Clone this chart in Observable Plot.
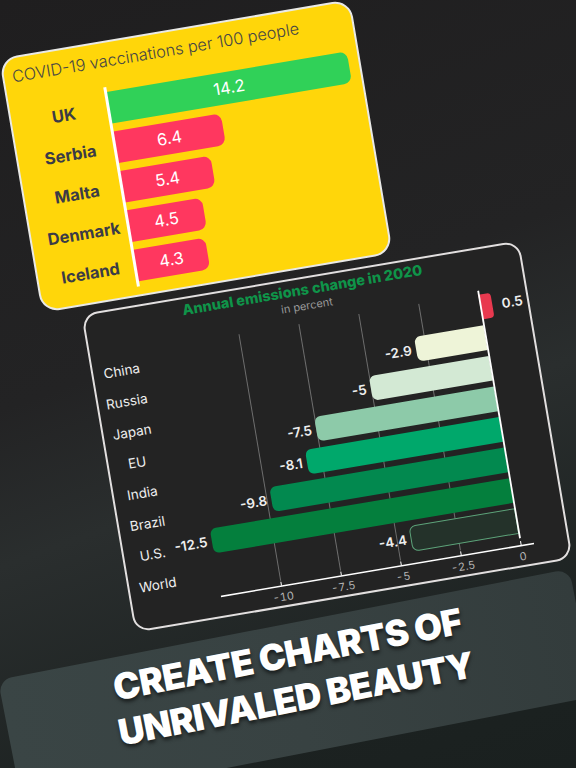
<!DOCTYPE html>
<html>
<head>
<meta charset="utf-8">
<script src="https://cdn.jsdelivr.net/npm/d3@7"></script>
<script src="https://cdn.jsdelivr.net/npm/@observablehq/plot@0.6"></script>
<style>
  html, body { margin: 0; padding: 0; }
  body {
    width: 576px; height: 768px; overflow: hidden; position: relative;
    background: linear-gradient(160deg, #1f1e1f 0%, #232324 42%, #2a2e2e 58%, #1c2221 85%, #1a201f 100%);
    font-family: Inter, "Noto Sans", sans-serif;
  }
  .card { position: absolute; border-radius: 16px; transform-origin: 50% 50%; }
  .card svg { position: absolute; left: 0; top: 0; }
  #c1 { left: 20.25px; top: 28.75px; width: 352px; height: 254px; background: #ffd60a;
        box-shadow: 0 0 0 2px #e9e9e6; transform: rotate(-9.6deg); }
  #c1 .t { position: absolute; left: 8px; top: 8px; font-size: 16.3px; font-weight: 300; color: #454545; white-space: nowrap; }
  #c2 { left: 106.75px; top: 277.25px; width: 440px; height: 319px; background: #232323;
        box-shadow: 0 0 0 2px #e2dfdf; border-radius: 14px; transform: rotate(-9.6deg); }
  #c2 .t { position: absolute; left: 0; width: 440px; text-align: center; top: 2px; font-size: 14.5px; font-weight: 800; color: #0f9449; }
  #c2 .s { position: absolute; left: 0; width: 444px; text-align: center; top: 20px; font-size: 11px; color: #9a9a9a; }
  #banner { position: absolute; left: -2px; top: 680px; width: 582px; height: 130px; border-radius: 14px;
        background: linear-gradient(90deg, #3a4545 0%, #384242 50%, #333c3c 100%);
        transform-origin: 0 0; transform: rotate(-11deg); }
  #banner .l { position: absolute; left: 0; width: 578px; text-align: center; color: #fff; font-weight: 900;
        font-size: 36px; letter-spacing: -0.6px; text-shadow: 0 3px 4px rgba(0,0,0,0.55); white-space: nowrap; }
</style>
</head>
<body>
<div id="c1" class="card"><div class="t">COVID-19 vaccinations per 100 people</div></div>
<div id="c2" class="card"><div class="t">Annual emissions change in 2020</div><div class="s">in percent</div></div>
<div id="banner">
  <div class="l" style="top:8px">CREATE CHARTS OF</div>
  <div class="l" style="top:53px">UNRIVALED BEAUTY</div>
</div>
<script>
// ---- Chart 1: COVID-19 vaccinations per 100 people
const vaxCountries = ["UK", "Serbia", "Malta", "Denmark", "Iceland"];
const vaxValues = [14.2, 6.4, 5.4, 4.5, 4.3];
const vaxColors = ["#30d158", "#ff375f", "#ff375f", "#ff375f", "#ff375f"];

// ---- Chart 2: Annual emissions change in 2020
const emCountries = ["China", "Russia", "Japan", "EU", "India", "Brazil", "U.S.", "World"];
const emValues = [0.5, -2.9, -5, -7.5, -8.1, -9.8, -12.5, -4.4];
const emColors = ["#e8394f", "#eef4d8", "#d3e9d4", "#8dcaa9", "#00a86b", "#02894f", "#047f3d", "#24322a"];
const emStrokes = ["none", "none", "none", "none", "none", "none", "none", "#5da47a"];
const emTicks = [-10, -7.5, -5, -2.5, 0];
const emGrid = [-10, -7.5, -5, -2.5];

const vax = vaxCountries.map((c, i) => ({country: c, value: vaxValues[i], color: vaxColors[i]}));
const em = emCountries.map((c, i) => ({country: c, value: emValues[i], color: emColors[i], stroke: emStrokes[i]}));

const p1 = Plot.plot({
  width: 352, height: 254,
  marginLeft: 97, marginRight: 10, marginTop: 40, marginBottom: 5,
  style: {background: "transparent", fontFamily: "Inter, 'Noto Sans', sans-serif"},
  x: {domain: [0, 14.2], axis: null},
  y: {domain: vaxCountries, padding: 0.2, axis: null},
  marks: [
    Plot.barX(vax, {x1: 0, x2: "value", y: "country", fill: "color", rx2: 8}),
    Plot.text(vax, {x: d => d.value / 2, y: "country", text: d => d.value.toFixed(1), fill: "white", fontSize: 16.5}),
    Plot.ruleX([0], {stroke: "white", strokeWidth: 3, insetTop: 4, insetBottom: 3}),
    Plot.text(vax, {y: "country", text: "country", frameAnchor: "left", dx: -45, textAnchor: "middle", fontSize: 16.5, fontWeight: 700, fill: "#3b3b46"})
  ]
});
document.getElementById("c1").appendChild(p1);

const p2 = Plot.plot({
  width: 440, height: 319,
  marginLeft: 89, marginRight: 35, marginTop: 38, marginBottom: 25,
  style: {background: "transparent", fontFamily: "Inter, 'Noto Sans', sans-serif"},
  x: {domain: [-12.5, 0.5], label: null},
  y: {domain: emCountries, padding: 0.2, axis: null},
  marks: [
    Plot.ruleX(emGrid, {stroke: "#6e6e6e", strokeWidth: 1, insetTop: 6, insetBottom: 0}),
    Plot.barX(em.filter(d => d.value < 0), {x1: "value", x2: 0, y: "country", fill: "color", stroke: "stroke", strokeWidth: 1, rx1: 6}),
    Plot.barX(em.filter(d => d.value > 0), {x1: 0, x2: "value", y: "country", fill: "color", rx2: 4}),
    Plot.ruleX([0], {stroke: "white", strokeWidth: 1.8, insetTop: 3, insetBottom: 2}),
    Plot.text(em.filter(d => d.value < 0), {x: "value", y: "country", text: d => String(d.value), textAnchor: "end", dx: -5, fill: "#eeeeee", fontSize: 13.5, fontWeight: 600}),
    Plot.text(em.filter(d => d.value > 0), {x: "value", y: "country", text: d => String(d.value), textAnchor: "start", dx: 9, fill: "#eeeeee", fontSize: 13.5, fontWeight: 600}),
    Plot.text(em, {y: "country", text: "country", frameAnchor: "left", dx: -61, dy: 3, textAnchor: "middle", fill: "#eeeeee", fontSize: 13.5}),
    Plot.frame({anchor: "bottom", stroke: "white", strokeWidth: 1.5, dy: 5}),
    Plot.axisX({ticks: emTicks, tickSize: 4, tickPadding: 7, dy: 1, stroke: "white", fill: "#b5b5b5", fontSize: 11, tickFormat: d => String(d)})
  ]
});
document.getElementById("c2").appendChild(p2);
</script>
</body>
</html>
